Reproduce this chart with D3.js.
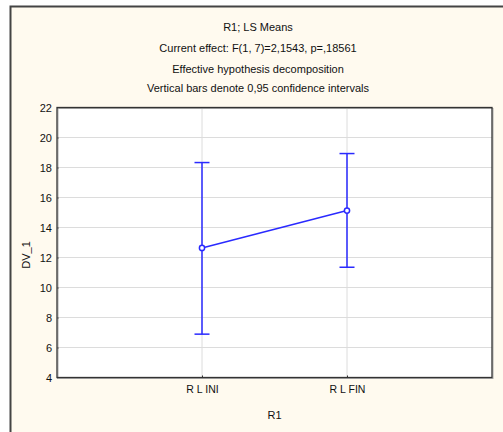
<!DOCTYPE html>
<html>
<head>
<meta charset="utf-8">
<script src="https://cdn.jsdelivr.net/npm/d3@7"></script>
<style>
  html, body { margin: 0; padding: 0; background: #fff; }
  svg { display: block; font-family: "Liberation Sans", Arial, sans-serif; }
</style>
</head>
<body>
<svg id="chart" width="503" height="432"></svg>
<script>
// Chart data
const categories = ["R L INI", "R L FIN"];
const means = [12.64, 15.13];
const lower = [6.89, 11.35];
const upper = [18.33, 18.93];
const yTicks = [4, 6, 8, 10, 12, 14, 16, 18, 20, 22];
const titleLines = [
  "R1; LS Means",
  "Current effect: F(1, 7)=2,1543, p=,18561",
  "Effective hypothesis decomposition",
  "Vertical bars denote 0,95 confidence intervals"
];

const svg = d3.select("#chart");
const width = +svg.attr("width");
const height = +svg.attr("height");

// Plot area box
const plot = { left: 57, top: 107.5, right: 492, bottom: 377.5 };

// Cream background frame
svg.append("rect")
  .attr("x", 10.5).attr("y", 6.5)
  .attr("width", width).attr("height", height)
  .attr("fill", "#fffaef")
  .attr("stroke", "#444")
  .attr("stroke-width", 2);

// Titles
const titleY = [27, 48, 69, 88];
svg.append("g")
  .selectAll("text")
  .data(titleLines)
  .join("text")
  .attr("x", 258)
  .attr("y", (d, i) => titleY[i])
  .attr("dy", "0.35em")
  .attr("text-anchor", "middle")
  .attr("font-size", 11)
  .attr("fill", "#111")
  .text(d => d);

// Scales
const x = d3.scalePoint()
  .domain(categories)
  .range([plot.left, plot.right])
  .padding(1);

const y = d3.scaleLinear()
  .domain([4, 22])
  .range([plot.bottom, plot.top]);

// White plot background
svg.append("rect")
  .attr("x", plot.left).attr("y", plot.top)
  .attr("width", plot.right - plot.left)
  .attr("height", plot.bottom - plot.top)
  .attr("fill", "#fff");

// Gridlines
const grid = svg.append("g");
grid.selectAll("line.h")
  .data(yTicks.filter(t => t > 4 && t < 22))
  .join("line")
  .attr("class", "h")
  .attr("x1", plot.left).attr("x2", plot.right)
  .attr("y1", d => y(d)).attr("y2", d => y(d))
  .attr("stroke", "#dcdcdc").attr("stroke-width", 1);
grid.selectAll("line.v")
  .data(categories)
  .join("line")
  .attr("class", "v")
  .attr("y1", plot.top).attr("y2", plot.bottom)
  .attr("x1", d => x(d)).attr("x2", d => x(d))
  .attr("stroke", "#dcdcdc").attr("stroke-width", 1);

// Axes
const yAxis = svg.append("g")
  .attr("transform", `translate(${plot.left},0)`)
  .call(d3.axisLeft(y).tickValues(yTicks).tickSize(-2).tickPadding(5));
yAxis.select(".domain").remove();
yAxis.selectAll("text").attr("font-size", 11).attr("fill", "#111")
  .attr("font-family", "'Liberation Sans', Arial, sans-serif");
yAxis.selectAll("line").attr("stroke", "#333");

const xAxis = svg.append("g")
  .attr("transform", `translate(0,${plot.bottom})`)
  .call(d3.axisBottom(x).tickSize(-2).tickPadding(8));
xAxis.select(".domain").remove();
xAxis.selectAll("text").attr("font-size", 10.5).attr("fill", "#111")
  .attr("font-family", "'Liberation Sans', Arial, sans-serif");
xAxis.selectAll("line").attr("stroke", "#333");

// Plot frame
svg.append("rect")
  .attr("x", plot.left + 1).attr("y", plot.top + 1)
  .attr("width", plot.right - plot.left)
  .attr("height", plot.bottom - plot.top)
  .attr("fill", "none")
  .attr("stroke", "#aaa")
  .attr("stroke-width", 1);
svg.append("rect")
  .attr("x", plot.left).attr("y", plot.top)
  .attr("width", plot.right - plot.left)
  .attr("height", plot.bottom - plot.top)
  .attr("fill", "none")
  .attr("stroke", "#333")
  .attr("stroke-width", 1.3);

// Axis titles
svg.append("text")
  .attr("x", (plot.left + plot.right) / 2)
  .attr("y", 415)
  .attr("dy", "0.35em")
  .attr("text-anchor", "middle")
  .attr("font-size", 11)
  .attr("fill", "#111")
  .text("R1");
svg.append("text")
  .attr("transform", "translate(26,255) rotate(-90)")
  .attr("dy", "0.35em")
  .attr("text-anchor", "middle")
  .attr("font-size", 11)
  .attr("fill", "#111")
  .text("DV_1");

// Error bars and means
const blue = "#2a2aff";
const pts = categories.map((c, i) => ({ c, m: means[i], lo: lower[i], hi: upper[i] }));
const marks = svg.append("g");

marks.selectAll("line.bar")
  .data(pts)
  .join("line")
  .attr("class", "bar")
  .attr("x1", d => x(d.c)).attr("x2", d => x(d.c))
  .attr("y1", d => y(d.lo)).attr("y2", d => y(d.hi))
  .attr("stroke", blue).attr("stroke-width", 1.5);

marks.selectAll("line.capHi")
  .data(pts)
  .join("line")
  .attr("class", "capHi")
  .attr("x1", d => x(d.c) - 7.5).attr("x2", d => x(d.c) + 7.5)
  .attr("y1", d => y(d.hi)).attr("y2", d => y(d.hi))
  .attr("stroke", blue).attr("stroke-width", 1.5);

marks.selectAll("line.capLo")
  .data(pts)
  .join("line")
  .attr("class", "capLo")
  .attr("x1", d => x(d.c) - 7.5).attr("x2", d => x(d.c) + 7.5)
  .attr("y1", d => y(d.lo)).attr("y2", d => y(d.lo))
  .attr("stroke", blue).attr("stroke-width", 1.5);

marks.append("path")
  .datum(pts)
  .attr("d", d3.line().x(d => x(d.c)).y(d => y(d.m)))
  .attr("fill", "none")
  .attr("stroke", blue).attr("stroke-width", 1.5);

marks.selectAll("circle")
  .data(pts)
  .join("circle")
  .attr("cx", d => x(d.c)).attr("cy", d => y(d.m))
  .attr("r", 2.6)
  .attr("fill", "#fff")
  .attr("stroke", blue).attr("stroke-width", 1.5);
</script>
</body>
</html>
